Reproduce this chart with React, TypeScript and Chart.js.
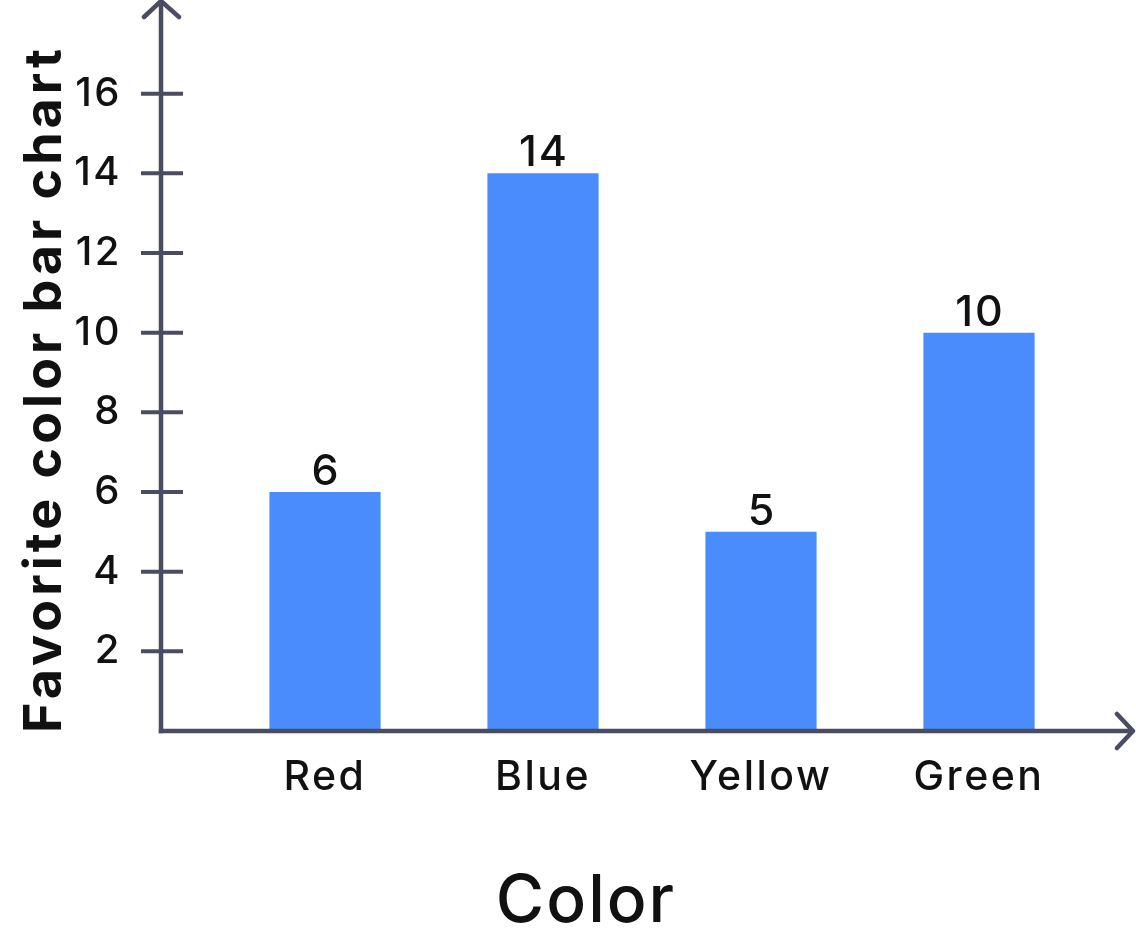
import React, { useEffect, useRef } from "react";
import { Chart, registerables } from "chart.js";

Chart.register(...registerables);

const categories = ["Red", "Blue", "Yellow", "Green"];
const votes = [6, 14, 5, 10];
const yTickValues = [2, 4, 6, 8, 10, 12, 14, 16];
const yTitle = "Favorite color bar chart";
const xTitle = "Color";

const FONT = "Inter, 'Open Sans', sans-serif";
const AXIS = "#4a4d62";
const BAR = "#4a8cfb";
const TEXT = "#111111";

const spacingPlugin = {
  id: "spacing",
  beforeDraw(chart: any) {
    (chart.ctx as any).letterSpacing = "2.5px";
  },
};

const decorPlugin = {
  id: "decor",
  afterDatasetsDraw(chart: any) {
    const ctx = chart.ctx;
    const ys = chart.scales.y;
    const x0 = 161;
    const yb = ys.getPixelForValue(0);
    ctx.save();
    ctx.strokeStyle = AXIS;
    ctx.lineWidth = 4.5;
    ctx.lineCap = "butt";
    // y axis line
    ctx.beginPath();
    ctx.moveTo(x0, yb + 2.2);
    ctx.lineTo(x0, 2);
    ctx.stroke();
    // x axis line
    ctx.beginPath();
    ctx.moveTo(x0 - 2.2, yb);
    ctx.lineTo(1133, yb);
    ctx.stroke();
    // tick marks crossing the y axis
    ctx.lineWidth = 4;
    yTickValues.forEach((v) => {
      const py = ys.getPixelForValue(v);
      ctx.beginPath();
      ctx.moveTo(141, py);
      ctx.lineTo(183, py);
      ctx.stroke();
    });
    // arrow heads
    ctx.lineWidth = 4.5;
    ctx.lineCap = "round";
    ctx.lineJoin = "round";
    ctx.beginPath();
    ctx.moveTo(144, 17);
    ctx.lineTo(x0, 1);
    ctx.lineTo(179, 17);
    ctx.stroke();
    ctx.beginPath();
    ctx.moveTo(1117, yb - 17);
    ctx.lineTo(1133, yb);
    ctx.lineTo(1117, yb + 17);
    ctx.stroke();

    // value labels above bars
    const meta = chart.getDatasetMeta(0);
    ctx.fillStyle = TEXT;
    ctx.letterSpacing = "2px";
    ctx.font = `500 43px ${FONT}`;
    ctx.textAlign = "center";
    ctx.textBaseline = "alphabetic";
    meta.data.forEach((bar: any, i: number) => {
      ctx.fillText(String(votes[i]), bar.x + 1, bar.y - 7);
    });

    // axis titles
    ctx.font = `700 52px ${FONT}`;
    ctx.letterSpacing = "4px";
    ctx.save();
    ctx.translate(61, 389);
    ctx.rotate(-Math.PI / 2);
    ctx.fillText(yTitle, 0, 0);
    ctx.restore();
    ctx.font = `500 66px ${FONT}`;
    ctx.letterSpacing = "2px";
    ctx.fillText(xTitle, 586, 922);
    ctx.restore();
  },
};

export default function App() {
  const ref = useRef<HTMLCanvasElement | null>(null);
  useEffect(() => {
    if (!ref.current) return;
    const chart = new Chart(ref.current, {
      type: "bar",
      data: {
        labels: categories,
        datasets: [
          {
            data: votes,
            backgroundColor: BAR,
            borderWidth: 0,
            barPercentage: 0.51,
            categoryPercentage: 1,
          },
        ],
      },
      options: {
        responsive: false,
        animation: false,
        layout: { padding: { top: 14, right: 48, left: 0, bottom: 0 } },
        plugins: { legend: { display: false }, tooltip: { enabled: false } },
        scales: {
          x: {
            type: "category",
            grid: { display: false, drawTicks: false },
            border: { display: false },
            ticks: { font: { family: FONT, size: 41, weight: 500 }, color: TEXT, padding: 22 },
            afterFit: (s: any) => {
              s.height = 213;
              s.paddingLeft = 0;
              s.paddingRight = 0;
            },
          },
          y: {
            min: 0,
            max: 18,
            grid: { display: false, drawTicks: false },
            border: { display: false },
            ticks: {
              stepSize: 2,
              font: { family: FONT, size: 40, weight: 500 },
              color: TEXT,
              padding: 94,
              callback: (v: any) => (v > 0 && v <= 16 ? String(v) : ""),
            },
            afterFit: (s: any) => {
              s.width = 216;
              s.paddingTop = 0;
              s.paddingBottom = 0;
            },
          },
        },
      },
      plugins: [spacingPlugin, decorPlugin],
    });
    return () => chart.destroy();
  }, []);
  return (
    <div style={{ position: "absolute", left: 0, top: 0, width: 1136, height: 944, background: "#fff" }}>
      <canvas ref={ref} width={1136} height={944} style={{ display: "block" }} />
    </div>
  );
}
